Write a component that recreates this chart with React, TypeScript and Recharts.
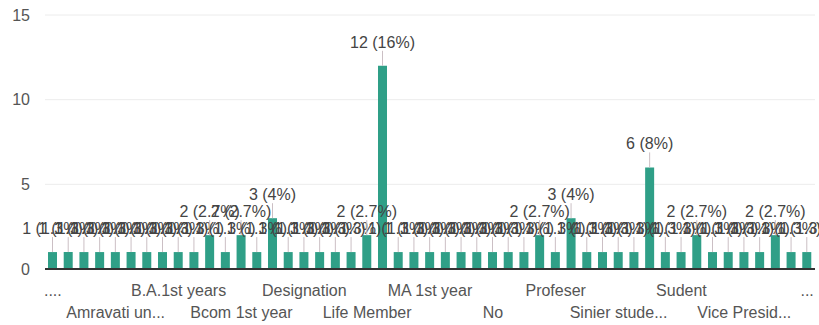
import React from 'react';
import { BarChart, Bar, XAxis, YAxis, CartesianGrid, LabelList } from 'recharts';

// answers to the "Designation" question, in the order the chart lists them
const categories = [
  '....', '-', '.', 'Amravati', 'Amravati un...', 'Asst. Professor', 'B.A', 'B.A. 1st year',
  'B.A.1st years', 'B.A.2nd year', 'BA', 'BBA', 'Bcom 1st year', 'Bcom 2nd year', 'Coordinator',
  'Counsellor', 'Designation', 'Director', 'Head of Department', 'Lecturer', 'Life Member',
  'Member', 'Member of Sabha', 'M.A.', 'MA 1st year', 'MA 2nd year', 'Manager', 'Nill', 'No',
  'None', 'Office Bearer', 'President', 'Profeser', 'Professor', 'Research Scholar', 'Secretary',
  'Sinier stude...', 'Social worker', 'Student', 'Student of BA', 'Sudent', 'Teacher',
  'Treasurer', 'Trustee', 'Vice Presid...', 'Volunteer', 'Worker', 'Yes', '...',
];

const responses = [
  1, 1, 1, 1, 1, 1, 1, 1, 1, 1, 2, 1, 2, 1, 3, 1, 1, 1, 1, 1, 2, 12, 1, 1, 1,
  1, 1, 1, 1, 1, 1, 2, 1, 3, 1, 1, 1, 1, 6, 1, 1, 2, 1, 1, 1, 1, 2, 1, 1,
];

const yTicks = [0, 5, 10, 15];

const total = responses.reduce((s, v) => s + v, 0);
const data = categories.map((name, i) => ({ name, count: responses[i] }));

const BAR_COLOR = '#2f9f87';
const FONT = 'Arial, "Liberation Sans", sans-serif';

const pct = (v: number) => `${Number(((v / total) * 100).toFixed(1))}%`;

// every 4th label is shown, alternating between two rows
const StaggeredTick = (props: any) => {
  const { x, y, payload } = props;
  const idx = categories.indexOf(payload.value);
  const secondRow = (idx / 4) % 2 === 1;
  return (
    <text x={x} y={y + (secondRow ? 41 : 19)} textAnchor="middle" fill="#555" fontSize={16} fontFamily={FONT}>
      {payload.value}
    </text>
  );
};

const ValueLabel = (props: any) => {
  const { x, y, width, value } = props;
  const cx = Number(x) + Number(width) / 2;
  const top = Number(y);
  return (
    <g>
      <line x1={cx} x2={cx} y1={top} y2={top - 15} stroke="#cbbfc4" strokeWidth={1} />
      <text x={cx} y={top - 18} textAnchor="middle" fill="#444" fontSize={16} fontFamily={FONT}>
        {`${value} (${pct(value)})`}
      </text>
    </g>
  );
};

export default function App() {
  return (
    <div>
      <style>{'body{margin:0;background:#fff}'}</style>
      <BarChart width={819} height={325} data={data} margin={{ top: 15, right: 4, left: 0, bottom: 6 }}>
        <CartesianGrid vertical={false} stroke="#ececec" />
        <XAxis
          dataKey="name"
          interval={3}
          height={50}
          tickLine={false}
          axisLine={{ stroke: '#333', strokeWidth: 2 }}
          tick={<StaggeredTick />}
        />
        <YAxis
          width={45}
          domain={[0, 15]}
          ticks={yTicks}
          axisLine={false}
          tickLine={false}
          tickMargin={9}
          tick={{ fill: '#555', fontSize: 16, fontFamily: FONT }}
        />
        <Bar dataKey="count" fill={BAR_COLOR} barSize={9} isAnimationActive={false}>
          <LabelList dataKey="count" content={<ValueLabel />} />
        </Bar>
      </BarChart>
    </div>
  );
}
